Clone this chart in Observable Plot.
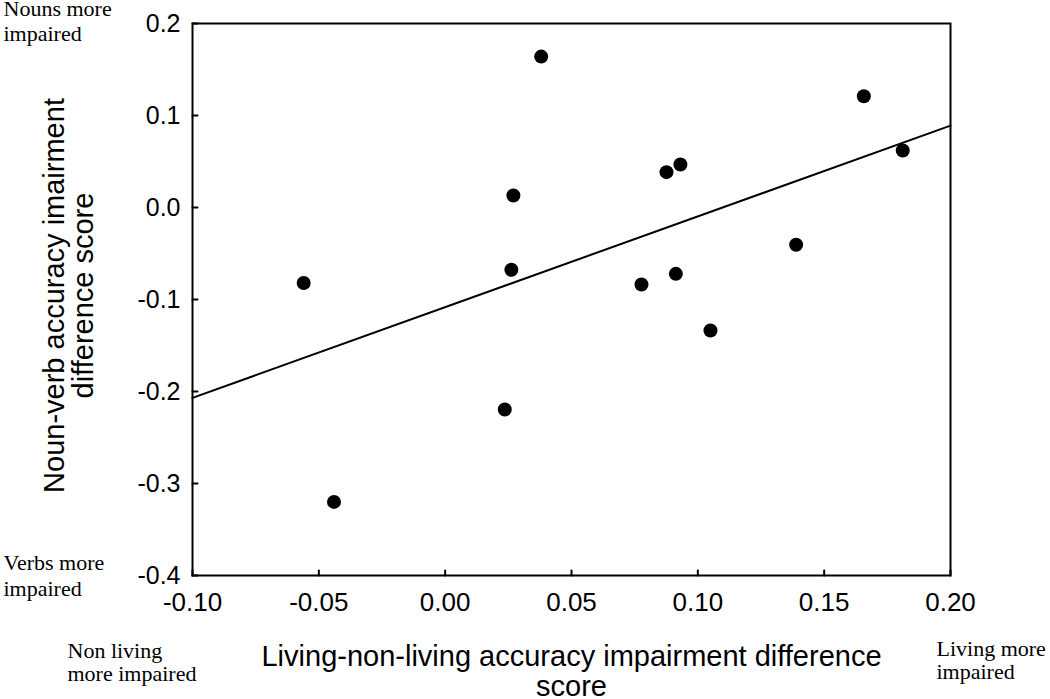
<!DOCTYPE html>
<html>
<head>
<meta charset="utf-8">
<script src="https://cdn.jsdelivr.net/npm/d3@7"></script>
<script src="https://cdn.jsdelivr.net/npm/@observablehq/plot@0.6"></script>
<style>
  html, body { margin: 0; padding: 0; background: #fff; }
  #chart svg { display: block; }
</style>
</head>
<body>
<div id="chart"></div>
<script>
// Data
const livingDiff   = [-0.056, -0.044, 0.0236, 0.0262, 0.027, 0.038, 0.0777, 0.0876, 0.0931, 0.0913, 0.105, 0.1389, 0.1657, 0.1811];
const nounVerbDiff = [-0.082, -0.320, -0.2196, -0.0677, 0.013, 0.164, -0.0837, 0.0384, 0.0467, -0.0721, -0.1337, -0.0405, 0.121, 0.062];

const xTicks = [-0.10, -0.05, 0.00, 0.05, 0.10, 0.15, 0.20];
const yTicks = [-0.4, -0.3, -0.2, -0.1, 0.0, 0.1, 0.2];
const xDomain = [-0.10, 0.20];
const yDomain = [-0.4, 0.2];

const xTitle = "Living-non-living accuracy impairment difference\nscore";
const yTitle = "Noun-verb accuracy imairment\ndifference score";
const noteTopLeft = "Nouns more\nimpaired";
const noteBottomLeft = "Verbs more\nimpaired";
const noteXLeft = "Non living\nmore impaired";
const noteXRight = "Living more\nimpaired";

const points = livingDiff.map((x, i) => ({x, y: nounVerbDiff[i]}));

// Ordinary least squares fit, drawn across the full x domain
const mx = d3.mean(points, d => d.x), my = d3.mean(points, d => d.y);
const slope = d3.sum(points, d => (d.x - mx) * (d.y - my)) / d3.sum(points, d => (d.x - mx) ** 2);
const intercept = my - slope * mx;
const fitLine = xDomain.map(x => ({x, y: intercept + slope * x}));

const SANS = "'Liberation Sans', Arial, Helvetica, sans-serif";
const SERIF = "'Liberation Serif', 'Times New Roman', serif";

const tickShape = {draw(context, l) { context.moveTo(0, 0); context.lineTo(0, -l); }};

const chart = Plot.plot({
  width: 1050,
  height: 699,
  marginLeft: 192,
  marginRight: 100,
  marginTop: 23,
  marginBottom: 124,
  style: {fontFamily: SANS, color: "black", background: "white"},
  x: {domain: xDomain},
  y: {domain: yDomain},
  marks: [
    Plot.frame({stroke: "black", strokeWidth: 2}),
    // inward ticks
    Plot.vector(yTicks, {x: xDomain[0], y: d => d, rotate: 90, length: 5, anchor: "start", shape: tickShape, stroke: "black", strokeWidth: 2}),
    Plot.vector(xTicks, {x: d => d, y: yDomain[0], rotate: 0, length: 5, anchor: "start", shape: tickShape, stroke: "black", strokeWidth: 2}),
    Plot.axisY(yTicks, {tickSize: 0, tickPadding: 12, fontSize: 25, fontFamily: SANS, tickFormat: d => d.toFixed(1), label: null}),
    Plot.axisX(xTicks, {tickSize: 0, tickPadding: 17, fontSize: 26, fontFamily: SANS, tickFormat: d => d.toFixed(2), label: null}),
    Plot.line(fitLine, {x: "x", y: "y", stroke: "black", strokeWidth: 2}),
    Plot.dot(points, {x: "x", y: "y", r: 7, fill: "black"}),
    // axis titles
    Plot.text([xTitle], {text: d => d, frameAnchor: "bottom", lineAnchor: "top", textAnchor: "middle", dy: 69, fontSize: 29, lineHeight: 1.03, fontFamily: SANS, fill: "black"}),
    Plot.text([yTitle], {text: d => d, frameAnchor: "left", lineAnchor: "top", textAnchor: "middle", rotate: -90, dx: -149.5, dy: -4, fontSize: 29, lineHeight: 1.0, fontFamily: SANS, fill: "black"}),
    // corner notes
    Plot.text([noteTopLeft], {text: d => d, frameAnchor: "top-left", lineAnchor: "top", textAnchor: "start", dx: -189, dy: -25.5, fontSize: 22, lineHeight: 1.14, fontFamily: SERIF, fill: "black"}),
    Plot.text([noteBottomLeft], {text: d => d, frameAnchor: "bottom-left", lineAnchor: "top", textAnchor: "start", dx: -189, dy: -24, fontSize: 22, lineHeight: 1.18, fontFamily: SERIF, fill: "black"}),
    Plot.text([noteXLeft], {text: d => d, frameAnchor: "bottom-left", lineAnchor: "top", textAnchor: "start", dx: -125, dy: 67, fontSize: 22, lineHeight: 1.02, fontFamily: SERIF, fill: "black"}),
    Plot.text([noteXRight], {text: d => d, frameAnchor: "bottom-right", lineAnchor: "top", textAnchor: "start", dx: -14, dy: 64, fontSize: 22, lineHeight: 1.05, fontFamily: SERIF, fill: "black"})
  ]
});
document.getElementById("chart").append(chart);
</script>
</body>
</html>
